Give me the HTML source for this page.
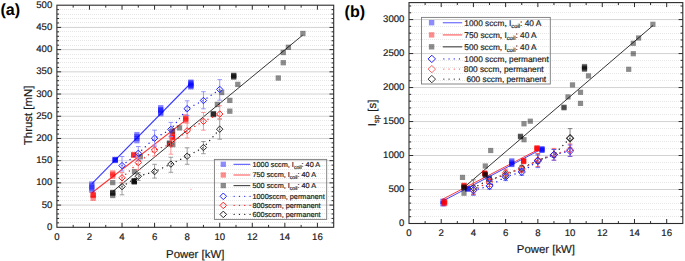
<!DOCTYPE html>
<html><head><meta charset="utf-8"><style>
html,body{margin:0;padding:0;background:#fff;width:685px;height:261px;overflow:hidden}
svg{display:block}
text{font-family:"Liberation Sans", sans-serif;fill:#1a1a1a;text-rendering:geometricPrecision;stroke:#1a1a1a;stroke-width:0.18px}
.tk{font-size:9.6px}
.ti{font-size:11.4px}
.lg{font-size:7.3px}
.pl{font-size:16.1px;font-weight:bold;fill:#000;stroke:none}
</style></head><body>
<svg width="685" height="261" viewBox="0 0 685 261">
<rect width="685" height="261" fill="#fff"/>
<line x1="58" y1="222.5" x2="333.7" y2="222.5" stroke="#e6e6e6" stroke-width="1" stroke-dasharray="1 1"/>
<line x1="58" y1="218.5" x2="333.7" y2="218.5" stroke="#e6e6e6" stroke-width="1" stroke-dasharray="1 1"/>
<line x1="58" y1="213.5" x2="333.7" y2="213.5" stroke="#e6e6e6" stroke-width="1" stroke-dasharray="1 1"/>
<line x1="58" y1="209.5" x2="333.7" y2="209.5" stroke="#e6e6e6" stroke-width="1" stroke-dasharray="1 1"/>
<line x1="56.9" y1="205.09" x2="333.7" y2="205.09" stroke="#d2d2d2" stroke-width="1"/>
<line x1="58" y1="200.5" x2="333.7" y2="200.5" stroke="#e6e6e6" stroke-width="1" stroke-dasharray="1 1"/>
<line x1="58" y1="196.5" x2="333.7" y2="196.5" stroke="#e6e6e6" stroke-width="1" stroke-dasharray="1 1"/>
<line x1="58" y1="191.5" x2="333.7" y2="191.5" stroke="#e6e6e6" stroke-width="1" stroke-dasharray="1 1"/>
<line x1="58" y1="187.5" x2="333.7" y2="187.5" stroke="#e6e6e6" stroke-width="1" stroke-dasharray="1 1"/>
<line x1="56.9" y1="182.88" x2="333.7" y2="182.88" stroke="#d2d2d2" stroke-width="1"/>
<line x1="58" y1="178.5" x2="333.7" y2="178.5" stroke="#e6e6e6" stroke-width="1" stroke-dasharray="1 1"/>
<line x1="58" y1="173.5" x2="333.7" y2="173.5" stroke="#e6e6e6" stroke-width="1" stroke-dasharray="1 1"/>
<line x1="58" y1="169.5" x2="333.7" y2="169.5" stroke="#e6e6e6" stroke-width="1" stroke-dasharray="1 1"/>
<line x1="58" y1="165.5" x2="333.7" y2="165.5" stroke="#e6e6e6" stroke-width="1" stroke-dasharray="1 1"/>
<line x1="56.9" y1="160.67" x2="333.7" y2="160.67" stroke="#d2d2d2" stroke-width="1"/>
<line x1="58" y1="156.5" x2="333.7" y2="156.5" stroke="#e6e6e6" stroke-width="1" stroke-dasharray="1 1"/>
<line x1="58" y1="151.5" x2="333.7" y2="151.5" stroke="#e6e6e6" stroke-width="1" stroke-dasharray="1 1"/>
<line x1="58" y1="147.5" x2="333.7" y2="147.5" stroke="#e6e6e6" stroke-width="1" stroke-dasharray="1 1"/>
<line x1="58" y1="142.5" x2="333.7" y2="142.5" stroke="#e6e6e6" stroke-width="1" stroke-dasharray="1 1"/>
<line x1="56.9" y1="138.46" x2="333.7" y2="138.46" stroke="#d2d2d2" stroke-width="1"/>
<line x1="58" y1="134.5" x2="333.7" y2="134.5" stroke="#e6e6e6" stroke-width="1" stroke-dasharray="1 1"/>
<line x1="58" y1="129.5" x2="333.7" y2="129.5" stroke="#e6e6e6" stroke-width="1" stroke-dasharray="1 1"/>
<line x1="58" y1="125.5" x2="333.7" y2="125.5" stroke="#e6e6e6" stroke-width="1" stroke-dasharray="1 1"/>
<line x1="58" y1="120.5" x2="333.7" y2="120.5" stroke="#e6e6e6" stroke-width="1" stroke-dasharray="1 1"/>
<line x1="56.9" y1="116.25" x2="333.7" y2="116.25" stroke="#d2d2d2" stroke-width="1"/>
<line x1="58" y1="111.5" x2="333.7" y2="111.5" stroke="#e6e6e6" stroke-width="1" stroke-dasharray="1 1"/>
<line x1="58" y1="107.5" x2="333.7" y2="107.5" stroke="#e6e6e6" stroke-width="1" stroke-dasharray="1 1"/>
<line x1="58" y1="102.5" x2="333.7" y2="102.5" stroke="#e6e6e6" stroke-width="1" stroke-dasharray="1 1"/>
<line x1="58" y1="98.5" x2="333.7" y2="98.5" stroke="#e6e6e6" stroke-width="1" stroke-dasharray="1 1"/>
<line x1="56.9" y1="94.04" x2="333.7" y2="94.04" stroke="#d2d2d2" stroke-width="1"/>
<line x1="58" y1="89.5" x2="333.7" y2="89.5" stroke="#e6e6e6" stroke-width="1" stroke-dasharray="1 1"/>
<line x1="58" y1="85.5" x2="333.7" y2="85.5" stroke="#e6e6e6" stroke-width="1" stroke-dasharray="1 1"/>
<line x1="58" y1="80.5" x2="333.7" y2="80.5" stroke="#e6e6e6" stroke-width="1" stroke-dasharray="1 1"/>
<line x1="58" y1="76.5" x2="333.7" y2="76.5" stroke="#e6e6e6" stroke-width="1" stroke-dasharray="1 1"/>
<line x1="56.9" y1="71.83" x2="333.7" y2="71.83" stroke="#d2d2d2" stroke-width="1"/>
<line x1="58" y1="67.5" x2="333.7" y2="67.5" stroke="#e6e6e6" stroke-width="1" stroke-dasharray="1 1"/>
<line x1="58" y1="62.5" x2="333.7" y2="62.5" stroke="#e6e6e6" stroke-width="1" stroke-dasharray="1 1"/>
<line x1="58" y1="58.5" x2="333.7" y2="58.5" stroke="#e6e6e6" stroke-width="1" stroke-dasharray="1 1"/>
<line x1="58" y1="54.5" x2="333.7" y2="54.5" stroke="#e6e6e6" stroke-width="1" stroke-dasharray="1 1"/>
<line x1="56.9" y1="49.62" x2="333.7" y2="49.62" stroke="#d2d2d2" stroke-width="1"/>
<line x1="58" y1="45.5" x2="333.7" y2="45.5" stroke="#e6e6e6" stroke-width="1" stroke-dasharray="1 1"/>
<line x1="58" y1="40.5" x2="333.7" y2="40.5" stroke="#e6e6e6" stroke-width="1" stroke-dasharray="1 1"/>
<line x1="58" y1="36.5" x2="333.7" y2="36.5" stroke="#e6e6e6" stroke-width="1" stroke-dasharray="1 1"/>
<line x1="58" y1="31.5" x2="333.7" y2="31.5" stroke="#e6e6e6" stroke-width="1" stroke-dasharray="1 1"/>
<line x1="56.9" y1="27.41" x2="333.7" y2="27.41" stroke="#d2d2d2" stroke-width="1"/>
<line x1="58" y1="22.5" x2="333.7" y2="22.5" stroke="#e6e6e6" stroke-width="1" stroke-dasharray="1 1"/>
<line x1="58" y1="18.5" x2="333.7" y2="18.5" stroke="#e6e6e6" stroke-width="1" stroke-dasharray="1 1"/>
<line x1="58" y1="14.5" x2="333.7" y2="14.5" stroke="#e6e6e6" stroke-width="1" stroke-dasharray="1 1"/>
<line x1="58" y1="9.5" x2="333.7" y2="9.5" stroke="#e6e6e6" stroke-width="1" stroke-dasharray="1 1"/>
<line x1="56.9" y1="222.86" x2="59.1" y2="222.86" stroke="#2b2b2b" stroke-width="1"/>
<line x1="333.7" y1="222.86" x2="331.5" y2="222.86" stroke="#2b2b2b" stroke-width="1"/>
<line x1="56.9" y1="218.42" x2="59.1" y2="218.42" stroke="#2b2b2b" stroke-width="1"/>
<line x1="333.7" y1="218.42" x2="331.5" y2="218.42" stroke="#2b2b2b" stroke-width="1"/>
<line x1="56.9" y1="213.97" x2="59.1" y2="213.97" stroke="#2b2b2b" stroke-width="1"/>
<line x1="333.7" y1="213.97" x2="331.5" y2="213.97" stroke="#2b2b2b" stroke-width="1"/>
<line x1="56.9" y1="209.53" x2="59.1" y2="209.53" stroke="#2b2b2b" stroke-width="1"/>
<line x1="333.7" y1="209.53" x2="331.5" y2="209.53" stroke="#2b2b2b" stroke-width="1"/>
<line x1="56.9" y1="205.09" x2="61.1" y2="205.09" stroke="#2b2b2b" stroke-width="1"/>
<line x1="333.7" y1="205.09" x2="329.5" y2="205.09" stroke="#2b2b2b" stroke-width="1"/>
<line x1="56.9" y1="200.65" x2="59.1" y2="200.65" stroke="#2b2b2b" stroke-width="1"/>
<line x1="333.7" y1="200.65" x2="331.5" y2="200.65" stroke="#2b2b2b" stroke-width="1"/>
<line x1="56.9" y1="196.21" x2="59.1" y2="196.21" stroke="#2b2b2b" stroke-width="1"/>
<line x1="333.7" y1="196.21" x2="331.5" y2="196.21" stroke="#2b2b2b" stroke-width="1"/>
<line x1="56.9" y1="191.76" x2="59.1" y2="191.76" stroke="#2b2b2b" stroke-width="1"/>
<line x1="333.7" y1="191.76" x2="331.5" y2="191.76" stroke="#2b2b2b" stroke-width="1"/>
<line x1="56.9" y1="187.32" x2="59.1" y2="187.32" stroke="#2b2b2b" stroke-width="1"/>
<line x1="333.7" y1="187.32" x2="331.5" y2="187.32" stroke="#2b2b2b" stroke-width="1"/>
<line x1="56.9" y1="182.88" x2="61.1" y2="182.88" stroke="#2b2b2b" stroke-width="1"/>
<line x1="333.7" y1="182.88" x2="329.5" y2="182.88" stroke="#2b2b2b" stroke-width="1"/>
<line x1="56.9" y1="178.44" x2="59.1" y2="178.44" stroke="#2b2b2b" stroke-width="1"/>
<line x1="333.7" y1="178.44" x2="331.5" y2="178.44" stroke="#2b2b2b" stroke-width="1"/>
<line x1="56.9" y1="174" x2="59.1" y2="174" stroke="#2b2b2b" stroke-width="1"/>
<line x1="333.7" y1="174" x2="331.5" y2="174" stroke="#2b2b2b" stroke-width="1"/>
<line x1="56.9" y1="169.55" x2="59.1" y2="169.55" stroke="#2b2b2b" stroke-width="1"/>
<line x1="333.7" y1="169.55" x2="331.5" y2="169.55" stroke="#2b2b2b" stroke-width="1"/>
<line x1="56.9" y1="165.11" x2="59.1" y2="165.11" stroke="#2b2b2b" stroke-width="1"/>
<line x1="333.7" y1="165.11" x2="331.5" y2="165.11" stroke="#2b2b2b" stroke-width="1"/>
<line x1="56.9" y1="160.67" x2="61.1" y2="160.67" stroke="#2b2b2b" stroke-width="1"/>
<line x1="333.7" y1="160.67" x2="329.5" y2="160.67" stroke="#2b2b2b" stroke-width="1"/>
<line x1="56.9" y1="156.23" x2="59.1" y2="156.23" stroke="#2b2b2b" stroke-width="1"/>
<line x1="333.7" y1="156.23" x2="331.5" y2="156.23" stroke="#2b2b2b" stroke-width="1"/>
<line x1="56.9" y1="151.79" x2="59.1" y2="151.79" stroke="#2b2b2b" stroke-width="1"/>
<line x1="333.7" y1="151.79" x2="331.5" y2="151.79" stroke="#2b2b2b" stroke-width="1"/>
<line x1="56.9" y1="147.34" x2="59.1" y2="147.34" stroke="#2b2b2b" stroke-width="1"/>
<line x1="333.7" y1="147.34" x2="331.5" y2="147.34" stroke="#2b2b2b" stroke-width="1"/>
<line x1="56.9" y1="142.9" x2="59.1" y2="142.9" stroke="#2b2b2b" stroke-width="1"/>
<line x1="333.7" y1="142.9" x2="331.5" y2="142.9" stroke="#2b2b2b" stroke-width="1"/>
<line x1="56.9" y1="138.46" x2="61.1" y2="138.46" stroke="#2b2b2b" stroke-width="1"/>
<line x1="333.7" y1="138.46" x2="329.5" y2="138.46" stroke="#2b2b2b" stroke-width="1"/>
<line x1="56.9" y1="134.02" x2="59.1" y2="134.02" stroke="#2b2b2b" stroke-width="1"/>
<line x1="333.7" y1="134.02" x2="331.5" y2="134.02" stroke="#2b2b2b" stroke-width="1"/>
<line x1="56.9" y1="129.58" x2="59.1" y2="129.58" stroke="#2b2b2b" stroke-width="1"/>
<line x1="333.7" y1="129.58" x2="331.5" y2="129.58" stroke="#2b2b2b" stroke-width="1"/>
<line x1="56.9" y1="125.13" x2="59.1" y2="125.13" stroke="#2b2b2b" stroke-width="1"/>
<line x1="333.7" y1="125.13" x2="331.5" y2="125.13" stroke="#2b2b2b" stroke-width="1"/>
<line x1="56.9" y1="120.69" x2="59.1" y2="120.69" stroke="#2b2b2b" stroke-width="1"/>
<line x1="333.7" y1="120.69" x2="331.5" y2="120.69" stroke="#2b2b2b" stroke-width="1"/>
<line x1="56.9" y1="116.25" x2="61.1" y2="116.25" stroke="#2b2b2b" stroke-width="1"/>
<line x1="333.7" y1="116.25" x2="329.5" y2="116.25" stroke="#2b2b2b" stroke-width="1"/>
<line x1="56.9" y1="111.81" x2="59.1" y2="111.81" stroke="#2b2b2b" stroke-width="1"/>
<line x1="333.7" y1="111.81" x2="331.5" y2="111.81" stroke="#2b2b2b" stroke-width="1"/>
<line x1="56.9" y1="107.37" x2="59.1" y2="107.37" stroke="#2b2b2b" stroke-width="1"/>
<line x1="333.7" y1="107.37" x2="331.5" y2="107.37" stroke="#2b2b2b" stroke-width="1"/>
<line x1="56.9" y1="102.92" x2="59.1" y2="102.92" stroke="#2b2b2b" stroke-width="1"/>
<line x1="333.7" y1="102.92" x2="331.5" y2="102.92" stroke="#2b2b2b" stroke-width="1"/>
<line x1="56.9" y1="98.48" x2="59.1" y2="98.48" stroke="#2b2b2b" stroke-width="1"/>
<line x1="333.7" y1="98.48" x2="331.5" y2="98.48" stroke="#2b2b2b" stroke-width="1"/>
<line x1="56.9" y1="94.04" x2="61.1" y2="94.04" stroke="#2b2b2b" stroke-width="1"/>
<line x1="333.7" y1="94.04" x2="329.5" y2="94.04" stroke="#2b2b2b" stroke-width="1"/>
<line x1="56.9" y1="89.6" x2="59.1" y2="89.6" stroke="#2b2b2b" stroke-width="1"/>
<line x1="333.7" y1="89.6" x2="331.5" y2="89.6" stroke="#2b2b2b" stroke-width="1"/>
<line x1="56.9" y1="85.16" x2="59.1" y2="85.16" stroke="#2b2b2b" stroke-width="1"/>
<line x1="333.7" y1="85.16" x2="331.5" y2="85.16" stroke="#2b2b2b" stroke-width="1"/>
<line x1="56.9" y1="80.71" x2="59.1" y2="80.71" stroke="#2b2b2b" stroke-width="1"/>
<line x1="333.7" y1="80.71" x2="331.5" y2="80.71" stroke="#2b2b2b" stroke-width="1"/>
<line x1="56.9" y1="76.27" x2="59.1" y2="76.27" stroke="#2b2b2b" stroke-width="1"/>
<line x1="333.7" y1="76.27" x2="331.5" y2="76.27" stroke="#2b2b2b" stroke-width="1"/>
<line x1="56.9" y1="71.83" x2="61.1" y2="71.83" stroke="#2b2b2b" stroke-width="1"/>
<line x1="333.7" y1="71.83" x2="329.5" y2="71.83" stroke="#2b2b2b" stroke-width="1"/>
<line x1="56.9" y1="67.39" x2="59.1" y2="67.39" stroke="#2b2b2b" stroke-width="1"/>
<line x1="333.7" y1="67.39" x2="331.5" y2="67.39" stroke="#2b2b2b" stroke-width="1"/>
<line x1="56.9" y1="62.95" x2="59.1" y2="62.95" stroke="#2b2b2b" stroke-width="1"/>
<line x1="333.7" y1="62.95" x2="331.5" y2="62.95" stroke="#2b2b2b" stroke-width="1"/>
<line x1="56.9" y1="58.5" x2="59.1" y2="58.5" stroke="#2b2b2b" stroke-width="1"/>
<line x1="333.7" y1="58.5" x2="331.5" y2="58.5" stroke="#2b2b2b" stroke-width="1"/>
<line x1="56.9" y1="54.06" x2="59.1" y2="54.06" stroke="#2b2b2b" stroke-width="1"/>
<line x1="333.7" y1="54.06" x2="331.5" y2="54.06" stroke="#2b2b2b" stroke-width="1"/>
<line x1="56.9" y1="49.62" x2="61.1" y2="49.62" stroke="#2b2b2b" stroke-width="1"/>
<line x1="333.7" y1="49.62" x2="329.5" y2="49.62" stroke="#2b2b2b" stroke-width="1"/>
<line x1="56.9" y1="45.18" x2="59.1" y2="45.18" stroke="#2b2b2b" stroke-width="1"/>
<line x1="333.7" y1="45.18" x2="331.5" y2="45.18" stroke="#2b2b2b" stroke-width="1"/>
<line x1="56.9" y1="40.74" x2="59.1" y2="40.74" stroke="#2b2b2b" stroke-width="1"/>
<line x1="333.7" y1="40.74" x2="331.5" y2="40.74" stroke="#2b2b2b" stroke-width="1"/>
<line x1="56.9" y1="36.29" x2="59.1" y2="36.29" stroke="#2b2b2b" stroke-width="1"/>
<line x1="333.7" y1="36.29" x2="331.5" y2="36.29" stroke="#2b2b2b" stroke-width="1"/>
<line x1="56.9" y1="31.85" x2="59.1" y2="31.85" stroke="#2b2b2b" stroke-width="1"/>
<line x1="333.7" y1="31.85" x2="331.5" y2="31.85" stroke="#2b2b2b" stroke-width="1"/>
<line x1="56.9" y1="27.41" x2="61.1" y2="27.41" stroke="#2b2b2b" stroke-width="1"/>
<line x1="333.7" y1="27.41" x2="329.5" y2="27.41" stroke="#2b2b2b" stroke-width="1"/>
<line x1="56.9" y1="22.97" x2="59.1" y2="22.97" stroke="#2b2b2b" stroke-width="1"/>
<line x1="333.7" y1="22.97" x2="331.5" y2="22.97" stroke="#2b2b2b" stroke-width="1"/>
<line x1="56.9" y1="18.53" x2="59.1" y2="18.53" stroke="#2b2b2b" stroke-width="1"/>
<line x1="333.7" y1="18.53" x2="331.5" y2="18.53" stroke="#2b2b2b" stroke-width="1"/>
<line x1="56.9" y1="14.08" x2="59.1" y2="14.08" stroke="#2b2b2b" stroke-width="1"/>
<line x1="333.7" y1="14.08" x2="331.5" y2="14.08" stroke="#2b2b2b" stroke-width="1"/>
<line x1="56.9" y1="9.64" x2="59.1" y2="9.64" stroke="#2b2b2b" stroke-width="1"/>
<line x1="333.7" y1="9.64" x2="331.5" y2="9.64" stroke="#2b2b2b" stroke-width="1"/>
<line x1="73.18" y1="227.3" x2="73.18" y2="224.9" stroke="#2b2b2b" stroke-width="1"/>
<line x1="73.18" y1="5.2" x2="73.18" y2="7.6" stroke="#2b2b2b" stroke-width="1"/>
<line x1="89.46" y1="227.3" x2="89.46" y2="222.8" stroke="#2b2b2b" stroke-width="1"/>
<line x1="89.46" y1="5.2" x2="89.46" y2="9.7" stroke="#2b2b2b" stroke-width="1"/>
<line x1="105.75" y1="227.3" x2="105.75" y2="224.9" stroke="#2b2b2b" stroke-width="1"/>
<line x1="105.75" y1="5.2" x2="105.75" y2="7.6" stroke="#2b2b2b" stroke-width="1"/>
<line x1="122.03" y1="227.3" x2="122.03" y2="222.8" stroke="#2b2b2b" stroke-width="1"/>
<line x1="122.03" y1="5.2" x2="122.03" y2="9.7" stroke="#2b2b2b" stroke-width="1"/>
<line x1="138.31" y1="227.3" x2="138.31" y2="224.9" stroke="#2b2b2b" stroke-width="1"/>
<line x1="138.31" y1="5.2" x2="138.31" y2="7.6" stroke="#2b2b2b" stroke-width="1"/>
<line x1="154.59" y1="227.3" x2="154.59" y2="222.8" stroke="#2b2b2b" stroke-width="1"/>
<line x1="154.59" y1="5.2" x2="154.59" y2="9.7" stroke="#2b2b2b" stroke-width="1"/>
<line x1="170.88" y1="227.3" x2="170.88" y2="224.9" stroke="#2b2b2b" stroke-width="1"/>
<line x1="170.88" y1="5.2" x2="170.88" y2="7.6" stroke="#2b2b2b" stroke-width="1"/>
<line x1="187.16" y1="227.3" x2="187.16" y2="222.8" stroke="#2b2b2b" stroke-width="1"/>
<line x1="187.16" y1="5.2" x2="187.16" y2="9.7" stroke="#2b2b2b" stroke-width="1"/>
<line x1="203.44" y1="227.3" x2="203.44" y2="224.9" stroke="#2b2b2b" stroke-width="1"/>
<line x1="203.44" y1="5.2" x2="203.44" y2="7.6" stroke="#2b2b2b" stroke-width="1"/>
<line x1="219.72" y1="227.3" x2="219.72" y2="222.8" stroke="#2b2b2b" stroke-width="1"/>
<line x1="219.72" y1="5.2" x2="219.72" y2="9.7" stroke="#2b2b2b" stroke-width="1"/>
<line x1="236.01" y1="227.3" x2="236.01" y2="224.9" stroke="#2b2b2b" stroke-width="1"/>
<line x1="236.01" y1="5.2" x2="236.01" y2="7.6" stroke="#2b2b2b" stroke-width="1"/>
<line x1="252.29" y1="227.3" x2="252.29" y2="222.8" stroke="#2b2b2b" stroke-width="1"/>
<line x1="252.29" y1="5.2" x2="252.29" y2="9.7" stroke="#2b2b2b" stroke-width="1"/>
<line x1="268.57" y1="227.3" x2="268.57" y2="224.9" stroke="#2b2b2b" stroke-width="1"/>
<line x1="268.57" y1="5.2" x2="268.57" y2="7.6" stroke="#2b2b2b" stroke-width="1"/>
<line x1="284.85" y1="227.3" x2="284.85" y2="222.8" stroke="#2b2b2b" stroke-width="1"/>
<line x1="284.85" y1="5.2" x2="284.85" y2="9.7" stroke="#2b2b2b" stroke-width="1"/>
<line x1="301.14" y1="227.3" x2="301.14" y2="224.9" stroke="#2b2b2b" stroke-width="1"/>
<line x1="301.14" y1="5.2" x2="301.14" y2="7.6" stroke="#2b2b2b" stroke-width="1"/>
<line x1="317.42" y1="227.3" x2="317.42" y2="222.8" stroke="#2b2b2b" stroke-width="1"/>
<line x1="317.42" y1="5.2" x2="317.42" y2="9.7" stroke="#2b2b2b" stroke-width="1"/>
<rect x="56.9" y="5.2" width="276.8" height="222.1" fill="none" stroke="#2b2b2b" stroke-width="1.1"/>
<text x="56.9" y="240.3" text-anchor="middle" class="tk">0</text>
<text x="89.46" y="240.3" text-anchor="middle" class="tk">2</text>
<text x="122.03" y="240.3" text-anchor="middle" class="tk">4</text>
<text x="154.59" y="240.3" text-anchor="middle" class="tk">6</text>
<text x="187.16" y="240.3" text-anchor="middle" class="tk">8</text>
<text x="219.72" y="240.3" text-anchor="middle" class="tk">10</text>
<text x="252.29" y="240.3" text-anchor="middle" class="tk">12</text>
<text x="284.85" y="240.3" text-anchor="middle" class="tk">14</text>
<text x="317.42" y="240.3" text-anchor="middle" class="tk">16</text>
<text x="52.3" y="229.8" text-anchor="end" class="tk">0</text>
<text x="52.3" y="207.59" text-anchor="end" class="tk">50</text>
<text x="52.3" y="185.38" text-anchor="end" class="tk">100</text>
<text x="52.3" y="163.17" text-anchor="end" class="tk">150</text>
<text x="52.3" y="140.96" text-anchor="end" class="tk">200</text>
<text x="52.3" y="118.75" text-anchor="end" class="tk">250</text>
<text x="52.3" y="96.54" text-anchor="end" class="tk">300</text>
<text x="52.3" y="74.33" text-anchor="end" class="tk">350</text>
<text x="52.3" y="52.12" text-anchor="end" class="tk">400</text>
<text x="52.3" y="29.91" text-anchor="end" class="tk">450</text>
<text x="52.3" y="7.7" text-anchor="end" class="tk">500</text>
<line x1="92" y1="183.6" x2="189.5" y2="84.5" stroke="#3a3aff" stroke-width="1.1"/>
<line x1="92" y1="192.8" x2="183.8" y2="121.6" stroke="#ff3030" stroke-width="1.1"/>
<line x1="113" y1="191.3" x2="302.5" y2="35.3" stroke="#2a2a2a" stroke-width="0.95"/>
<rect x="89.15" y="181.35" width="5.3" height="5.3" fill="rgba(0,0,255,0.45)"/>
<rect x="89.15" y="183.35" width="5.3" height="5.3" fill="rgba(0,0,255,0.45)"/>
<rect x="89.15" y="185.35" width="5.3" height="5.3" fill="rgba(0,0,255,0.45)"/>
<rect x="89.15" y="187.55" width="5.3" height="5.3" fill="rgba(0,0,255,0.45)"/>
<rect x="112.55" y="156.75" width="5.3" height="5.3" fill="rgba(0,0,255,0.45)"/>
<rect x="112.55" y="157.35" width="5.3" height="5.3" fill="rgba(0,0,255,0.45)"/>
<rect x="112.55" y="157.85" width="5.3" height="5.3" fill="rgba(0,0,255,0.45)"/>
<rect x="112.55" y="157.15" width="5.3" height="5.3" fill="rgba(0,0,255,0.45)"/>
<rect x="134.25" y="131.95" width="5.3" height="5.3" fill="rgba(0,0,255,0.45)"/>
<rect x="134.25" y="133.85" width="5.3" height="5.3" fill="rgba(0,0,255,0.45)"/>
<rect x="134.25" y="135.85" width="5.3" height="5.3" fill="rgba(0,0,255,0.45)"/>
<rect x="134.25" y="138.05" width="5.3" height="5.3" fill="rgba(0,0,255,0.45)"/>
<rect x="158.05" y="105.05" width="5.3" height="5.3" fill="rgba(0,0,255,0.45)"/>
<rect x="158.05" y="106.85" width="5.3" height="5.3" fill="rgba(0,0,255,0.45)"/>
<rect x="158.05" y="107.85" width="5.3" height="5.3" fill="rgba(0,0,255,0.45)"/>
<rect x="158.05" y="109.85" width="5.3" height="5.3" fill="rgba(0,0,255,0.45)"/>
<rect x="158.05" y="111.05" width="5.3" height="5.3" fill="rgba(0,0,255,0.45)"/>
<rect x="188.25" y="79.45" width="5.3" height="5.3" fill="rgba(0,0,255,0.45)"/>
<rect x="188.25" y="80.15" width="5.3" height="5.3" fill="rgba(0,0,255,0.45)"/>
<rect x="188.25" y="81.35" width="5.3" height="5.3" fill="rgba(0,0,255,0.45)"/>
<rect x="188.25" y="82.55" width="5.3" height="5.3" fill="rgba(0,0,255,0.45)"/>
<rect x="188.25" y="83.35" width="5.3" height="5.3" fill="rgba(0,0,255,0.45)"/>
<rect x="188.25" y="84.25" width="5.3" height="5.3" fill="rgba(0,0,255,0.45)"/>
<rect x="90.55" y="191.85" width="5.3" height="5.3" fill="rgba(255,0,0,0.45)"/>
<rect x="90.55" y="192.35" width="5.3" height="5.3" fill="rgba(255,0,0,0.45)"/>
<rect x="90.55" y="192.85" width="5.3" height="5.3" fill="rgba(255,0,0,0.45)"/>
<rect x="90.55" y="195.65" width="5.3" height="5.3" fill="rgba(255,0,0,0.45)"/>
<rect x="110.05" y="170.35" width="5.3" height="5.3" fill="rgba(255,0,0,0.45)"/>
<rect x="110.05" y="171.85" width="5.3" height="5.3" fill="rgba(255,0,0,0.45)"/>
<rect x="110.05" y="173.55" width="5.3" height="5.3" fill="rgba(255,0,0,0.45)"/>
<rect x="131.05" y="151.85" width="5.3" height="5.3" fill="rgba(255,0,0,0.45)"/>
<rect x="131.05" y="152.35" width="5.3" height="5.3" fill="rgba(255,0,0,0.45)"/>
<rect x="131.05" y="152.65" width="5.3" height="5.3" fill="rgba(255,0,0,0.45)"/>
<rect x="169.75" y="128.85" width="5.3" height="5.3" fill="rgba(255,0,0,0.45)"/>
<rect x="169.75" y="132.15" width="5.3" height="5.3" fill="rgba(255,0,0,0.45)"/>
<rect x="169.75" y="133.35" width="5.3" height="5.3" fill="rgba(255,0,0,0.45)"/>
<rect x="169.75" y="134.35" width="5.3" height="5.3" fill="rgba(255,0,0,0.45)"/>
<rect x="169.75" y="134.85" width="5.3" height="5.3" fill="rgba(255,0,0,0.45)"/>
<rect x="169.75" y="135.35" width="5.3" height="5.3" fill="rgba(255,0,0,0.45)"/>
<rect x="183.05" y="114.15" width="5.3" height="5.3" fill="rgba(255,0,0,0.45)"/>
<rect x="183.05" y="115.85" width="5.3" height="5.3" fill="rgba(255,0,0,0.45)"/>
<rect x="183.05" y="116.85" width="5.3" height="5.3" fill="rgba(255,0,0,0.45)"/>
<rect x="183.05" y="118.05" width="5.3" height="5.3" fill="rgba(255,0,0,0.45)"/>
<rect x="110.05" y="179.95" width="5.3" height="5.3" fill="rgba(0,0,0,0.45)"/>
<rect x="110.05" y="189.75" width="5.3" height="5.3" fill="rgba(0,0,0,0.45)"/>
<rect x="110.05" y="190.25" width="5.3" height="5.3" fill="rgba(0,0,0,0.45)"/>
<rect x="110.05" y="190.75" width="5.3" height="5.3" fill="rgba(0,0,0,0.45)"/>
<rect x="110.05" y="192.85" width="5.3" height="5.3" fill="rgba(0,0,0,0.45)"/>
<rect x="131.65" y="177.95" width="5.3" height="5.3" fill="rgba(0,0,0,0.45)"/>
<rect x="131.65" y="178.35" width="5.3" height="5.3" fill="rgba(0,0,0,0.45)"/>
<rect x="131.65" y="178.65" width="5.3" height="5.3" fill="rgba(0,0,0,0.45)"/>
<rect x="131.65" y="178.95" width="5.3" height="5.3" fill="rgba(0,0,0,0.45)"/>
<rect x="131.65" y="179.35" width="5.3" height="5.3" fill="rgba(0,0,0,0.45)"/>
<rect x="131.85" y="168.95" width="5.3" height="5.3" fill="rgba(0,0,0,0.45)"/>
<rect x="137.65" y="154.15" width="5.3" height="5.3" fill="rgba(0,0,0,0.45)"/>
<rect x="166.85" y="140.35" width="5.3" height="5.3" fill="rgba(0,0,0,0.45)"/>
<rect x="166.85" y="141.15" width="5.3" height="5.3" fill="rgba(0,0,0,0.45)"/>
<rect x="170.15" y="141.95" width="5.3" height="5.3" fill="rgba(0,0,0,0.45)"/>
<rect x="169.95" y="128.35" width="5.3" height="5.3" fill="rgba(0,0,0,0.45)"/>
<rect x="176.85" y="125.25" width="5.3" height="5.3" fill="rgba(0,0,0,0.45)"/>
<rect x="210.75" y="110.95" width="5.3" height="5.3" fill="rgba(0,0,0,0.45)"/>
<rect x="210.75" y="111.45" width="5.3" height="5.3" fill="rgba(0,0,0,0.45)"/>
<rect x="210.75" y="111.95" width="5.3" height="5.3" fill="rgba(0,0,0,0.45)"/>
<rect x="214.75" y="101.75" width="5.3" height="5.3" fill="rgba(0,0,0,0.45)"/>
<rect x="218.95" y="89.85" width="5.3" height="5.3" fill="rgba(0,0,0,0.45)"/>
<rect x="227.15" y="97.75" width="5.3" height="5.3" fill="rgba(0,0,0,0.45)"/>
<rect x="227.15" y="108.55" width="5.3" height="5.3" fill="rgba(0,0,0,0.45)"/>
<rect x="231.05" y="72.65" width="5.3" height="5.3" fill="rgba(0,0,0,0.45)"/>
<rect x="231.05" y="73.15" width="5.3" height="5.3" fill="rgba(0,0,0,0.45)"/>
<rect x="231.05" y="73.65" width="5.3" height="5.3" fill="rgba(0,0,0,0.45)"/>
<rect x="231.05" y="74.65" width="5.3" height="5.3" fill="rgba(0,0,0,0.45)"/>
<rect x="235.15" y="81.75" width="5.3" height="5.3" fill="rgba(0,0,0,0.45)"/>
<rect x="275.65" y="75.35" width="5.3" height="5.3" fill="rgba(0,0,0,0.45)"/>
<rect x="280.65" y="60.05" width="5.3" height="5.3" fill="rgba(0,0,0,0.45)"/>
<rect x="280.65" y="49.85" width="5.3" height="5.3" fill="rgba(0,0,0,0.45)"/>
<rect x="285.75" y="44.65" width="5.3" height="5.3" fill="rgba(0,0,0,0.45)"/>
<rect x="300.25" y="30.85" width="5.3" height="5.3" fill="rgba(0,0,0,0.45)"/>
<polyline points="122.03,186.6 138.31,176.3 154.59,171.6 170.88,164.1 187.16,156.2 203.44,147.5 219.72,129.2" fill="none" stroke="#222" stroke-width="1.35" stroke-dasharray="0.1 4.9" stroke-linecap="round"/>
<polyline points="122.03,177.8 138.31,162.6 154.59,150 170.88,144.2 187.16,130.8 203.44,121.3 219.72,114" fill="none" stroke="#ff2020" stroke-width="1.35" stroke-dasharray="0.1 4.9" stroke-linecap="round"/>
<polyline points="122.03,165.6 138.31,153.3 154.59,138.2 170.88,129.4 187.16,108.7 203.44,100.5 219.72,89.4" fill="none" stroke="#2020ff" stroke-width="1.35" stroke-dasharray="0.1 4.9" stroke-linecap="round"/>
<path d="M122.03 182.6V194.8M119.73 182.6H124.33M119.73 194.8H124.33" fill="none" stroke="#888" stroke-width="0.8"/>
<path d="M138.31 172.5V180.5M136.01 172.5H140.61M136.01 180.5H140.61" fill="none" stroke="#888" stroke-width="0.8"/>
<path d="M154.59 164.3V178.1M152.29 164.3H156.89M152.29 178.1H156.89" fill="none" stroke="#888" stroke-width="0.8"/>
<path d="M170.88 157.3V172.3M168.58 157.3H173.18M168.58 172.3H173.18" fill="none" stroke="#888" stroke-width="0.8"/>
<path d="M187.16 147.8V164.3M184.86 147.8H189.46M184.86 164.3H189.46" fill="none" stroke="#888" stroke-width="0.8"/>
<path d="M203.44 141.5V153.7M201.14 141.5H205.74M201.14 153.7H205.74" fill="none" stroke="#888" stroke-width="0.8"/>
<path d="M219.72 118.9V139.2M217.42 118.9H222.02M217.42 139.2H222.02" fill="none" stroke="#888" stroke-width="0.8"/>
<path d="M122.03 172.5V183M119.73 172.5H124.33M119.73 183H124.33" fill="none" stroke="#ff8080" stroke-width="0.8"/>
<path d="M138.31 157.5V169.7M136.01 157.5H140.61M136.01 169.7H140.61" fill="none" stroke="#ff8080" stroke-width="0.8"/>
<path d="M154.59 145V156M152.29 145H156.89M152.29 156H156.89" fill="none" stroke="#ff8080" stroke-width="0.8"/>
<path d="M170.88 137V154.2M168.58 137H173.18M168.58 154.2H173.18" fill="none" stroke="#ff8080" stroke-width="0.8"/>
<path d="M187.16 123.1V138.1M184.86 123.1H189.46M184.86 138.1H189.46" fill="none" stroke="#ff8080" stroke-width="0.8"/>
<path d="M203.44 112.5V130.2M201.14 112.5H205.74M201.14 130.2H205.74" fill="none" stroke="#ff8080" stroke-width="0.8"/>
<path d="M219.72 105.7V119.2M217.42 105.7H222.02M217.42 119.2H222.02" fill="none" stroke="#ff8080" stroke-width="0.8"/>
<path d="M122.03 156.5V171M119.73 156.5H124.33M119.73 171H124.33" fill="none" stroke="#8080ff" stroke-width="0.8"/>
<path d="M138.31 146.5V160M136.01 146.5H140.61M136.01 160H140.61" fill="none" stroke="#8080ff" stroke-width="0.8"/>
<path d="M154.59 130.2V146.3M152.29 130.2H156.89M152.29 146.3H156.89" fill="none" stroke="#8080ff" stroke-width="0.8"/>
<path d="M170.88 122.4V136.5M168.58 122.4H173.18M168.58 136.5H173.18" fill="none" stroke="#8080ff" stroke-width="0.8"/>
<path d="M187.16 100.8V115.5M184.86 100.8H189.46M184.86 115.5H189.46" fill="none" stroke="#8080ff" stroke-width="0.8"/>
<path d="M203.44 91.7V108.8M201.14 91.7H205.74M201.14 108.8H205.74" fill="none" stroke="#8080ff" stroke-width="0.8"/>
<path d="M219.72 79.6V100.2M217.42 79.6H222.02M217.42 100.2H222.02" fill="none" stroke="#8080ff" stroke-width="0.8"/>
<path d="M122.03 183.4L125.23 186.6L122.03 189.8L118.83 186.6Z" fill="none" stroke="#222" stroke-width="1.0"/>
<path d="M138.31 173.1L141.51 176.3L138.31 179.5L135.11 176.3Z" fill="none" stroke="#222" stroke-width="1.0"/>
<path d="M154.59 168.4L157.79 171.6L154.59 174.8L151.39 171.6Z" fill="none" stroke="#222" stroke-width="1.0"/>
<path d="M170.88 160.9L174.08 164.1L170.88 167.3L167.68 164.1Z" fill="none" stroke="#222" stroke-width="1.0"/>
<path d="M187.16 153L190.36 156.2L187.16 159.4L183.96 156.2Z" fill="none" stroke="#222" stroke-width="1.0"/>
<path d="M203.44 144.3L206.64 147.5L203.44 150.7L200.24 147.5Z" fill="none" stroke="#222" stroke-width="1.0"/>
<path d="M219.72 126L222.92 129.2L219.72 132.4L216.52 129.2Z" fill="none" stroke="#222" stroke-width="1.0"/>
<path d="M122.03 174.6L125.23 177.8L122.03 181L118.83 177.8Z" fill="none" stroke="#ff2020" stroke-width="1.0"/>
<path d="M138.31 159.4L141.51 162.6L138.31 165.8L135.11 162.6Z" fill="none" stroke="#ff2020" stroke-width="1.0"/>
<path d="M154.59 146.8L157.79 150L154.59 153.2L151.39 150Z" fill="none" stroke="#ff2020" stroke-width="1.0"/>
<path d="M170.88 141L174.08 144.2L170.88 147.4L167.68 144.2Z" fill="none" stroke="#ff2020" stroke-width="1.0"/>
<path d="M187.16 127.6L190.36 130.8L187.16 134L183.96 130.8Z" fill="none" stroke="#ff2020" stroke-width="1.0"/>
<path d="M203.44 118.1L206.64 121.3L203.44 124.5L200.24 121.3Z" fill="none" stroke="#ff2020" stroke-width="1.0"/>
<path d="M219.72 110.8L222.92 114L219.72 117.2L216.52 114Z" fill="none" stroke="#ff2020" stroke-width="1.0"/>
<path d="M122.03 162.4L125.23 165.6L122.03 168.8L118.83 165.6Z" fill="none" stroke="#2020ff" stroke-width="1.0"/>
<path d="M138.31 150.1L141.51 153.3L138.31 156.5L135.11 153.3Z" fill="none" stroke="#2020ff" stroke-width="1.0"/>
<path d="M154.59 135L157.79 138.2L154.59 141.4L151.39 138.2Z" fill="none" stroke="#2020ff" stroke-width="1.0"/>
<path d="M170.88 126.2L174.08 129.4L170.88 132.6L167.68 129.4Z" fill="none" stroke="#2020ff" stroke-width="1.0"/>
<path d="M187.16 105.5L190.36 108.7L187.16 111.9L183.96 108.7Z" fill="none" stroke="#2020ff" stroke-width="1.0"/>
<path d="M203.44 97.3L206.64 100.5L203.44 103.7L200.24 100.5Z" fill="none" stroke="#2020ff" stroke-width="1.0"/>
<path d="M219.72 86.2L222.92 89.4L219.72 92.6L216.52 89.4Z" fill="none" stroke="#2020ff" stroke-width="1.0"/>
<rect x="190.3" y="188.8" width="1.3" height="1.2" fill="#ffb0b0"/>
<rect x="214.4" y="159.4" width="112.3" height="60" fill="none" stroke="#7a7a7a" stroke-width="0.9"/>
<rect x="220.65" y="161.65" width="5.3" height="5.3" fill="rgba(0,0,255,0.45)"/>
<line x1="233.5" y1="164.3" x2="250.3" y2="164.3" stroke="#4646ff" stroke-width="1.0"/>
<rect x="220.65" y="172.35" width="5.3" height="5.3" fill="rgba(255,0,0,0.45)"/>
<line x1="233.5" y1="175" x2="250.3" y2="175" stroke="#ff6a6a" stroke-width="1.2"/>
<rect x="220.65" y="182.95" width="5.3" height="5.3" fill="rgba(0,0,0,0.45)"/>
<line x1="233.5" y1="185.6" x2="250.3" y2="185.6" stroke="#444" stroke-width="1.1"/>
<path d="M223.3 193L226.6 196.3L223.3 199.6L220 196.3Z" fill="none" stroke="#2020ff" stroke-width="1.0"/>
<polyline points="234.1,196.3 251,196.3" fill="none" stroke="#2020ff" stroke-width="1.2" stroke-dasharray="0.1 5.2" stroke-linecap="round"/>
<path d="M223.3 202.1L226.6 205.4L223.3 208.7L220 205.4Z" fill="none" stroke="#ff2020" stroke-width="1.0"/>
<polyline points="234.1,205.4 251,205.4" fill="none" stroke="#ff2020" stroke-width="1.2" stroke-dasharray="0.1 5.2" stroke-linecap="round"/>
<path d="M223.3 211.1L226.6 214.4L223.3 217.7L220 214.4Z" fill="none" stroke="#222" stroke-width="1.0"/>
<polyline points="234.1,214.4 251,214.4" fill="none" stroke="#222" stroke-width="1.2" stroke-dasharray="0.1 5.2" stroke-linecap="round"/>
<text x="252.5" y="166.5" style="font-size:7.3px">1000 sccm, I<tspan style="font-size:5.11px" dy="2.19">coil</tspan><tspan dy="-2.19">: 40 A</tspan></text>
<text x="252.5" y="177.2" style="font-size:7.3px">750 sccm, I<tspan style="font-size:5.11px" dy="2.19">coil</tspan><tspan dy="-2.19">: 40 A</tspan></text>
<text x="252.5" y="187.8" style="font-size:7.3px">500 sccm, I<tspan style="font-size:5.11px" dy="2.19">coil</tspan><tspan dy="-2.19">: 40 A</tspan></text>
<text x="252.5" y="198.9" style="font-size:7.3px">1000sccm, permanent</text>
<text x="252.5" y="208" style="font-size:7.3px">800sccm, permanent</text>
<text x="252.5" y="217" style="font-size:7.3px">600sccm, permanent</text>
<text x="195.2" y="257.7" text-anchor="middle" class="ti">Power [kW]</text>
<text transform="translate(31.9 115.4) rotate(-90)" text-anchor="middle" class="ti">Thrust [mN]</text>
<text x="0.5" y="15.2" class="pl">(a)</text>
<line x1="410" y1="216.5" x2="682.8" y2="216.5" stroke="#e6e6e6" stroke-width="1" stroke-dasharray="1 1"/>
<line x1="410" y1="209.5" x2="682.8" y2="209.5" stroke="#e6e6e6" stroke-width="1" stroke-dasharray="1 1"/>
<line x1="410" y1="203.5" x2="682.8" y2="203.5" stroke="#e6e6e6" stroke-width="1" stroke-dasharray="1 1"/>
<line x1="410" y1="196.5" x2="682.8" y2="196.5" stroke="#e6e6e6" stroke-width="1" stroke-dasharray="1 1"/>
<line x1="409" y1="189.51" x2="682.8" y2="189.51" stroke="#d2d2d2" stroke-width="1"/>
<line x1="410" y1="182.5" x2="682.8" y2="182.5" stroke="#e6e6e6" stroke-width="1" stroke-dasharray="1 1"/>
<line x1="410" y1="175.5" x2="682.8" y2="175.5" stroke="#e6e6e6" stroke-width="1" stroke-dasharray="1 1"/>
<line x1="410" y1="169.5" x2="682.8" y2="169.5" stroke="#e6e6e6" stroke-width="1" stroke-dasharray="1 1"/>
<line x1="410" y1="162.5" x2="682.8" y2="162.5" stroke="#e6e6e6" stroke-width="1" stroke-dasharray="1 1"/>
<line x1="409" y1="155.53" x2="682.8" y2="155.53" stroke="#d2d2d2" stroke-width="1"/>
<line x1="410" y1="148.5" x2="682.8" y2="148.5" stroke="#e6e6e6" stroke-width="1" stroke-dasharray="1 1"/>
<line x1="410" y1="141.5" x2="682.8" y2="141.5" stroke="#e6e6e6" stroke-width="1" stroke-dasharray="1 1"/>
<line x1="410" y1="135.5" x2="682.8" y2="135.5" stroke="#e6e6e6" stroke-width="1" stroke-dasharray="1 1"/>
<line x1="410" y1="128.5" x2="682.8" y2="128.5" stroke="#e6e6e6" stroke-width="1" stroke-dasharray="1 1"/>
<line x1="409" y1="121.55" x2="682.8" y2="121.55" stroke="#d2d2d2" stroke-width="1"/>
<line x1="410" y1="114.5" x2="682.8" y2="114.5" stroke="#e6e6e6" stroke-width="1" stroke-dasharray="1 1"/>
<line x1="410" y1="107.5" x2="682.8" y2="107.5" stroke="#e6e6e6" stroke-width="1" stroke-dasharray="1 1"/>
<line x1="410" y1="101.5" x2="682.8" y2="101.5" stroke="#e6e6e6" stroke-width="1" stroke-dasharray="1 1"/>
<line x1="410" y1="94.5" x2="682.8" y2="94.5" stroke="#e6e6e6" stroke-width="1" stroke-dasharray="1 1"/>
<line x1="409" y1="87.56" x2="682.8" y2="87.56" stroke="#d2d2d2" stroke-width="1"/>
<line x1="410" y1="80.5" x2="682.8" y2="80.5" stroke="#e6e6e6" stroke-width="1" stroke-dasharray="1 1"/>
<line x1="410" y1="73.5" x2="682.8" y2="73.5" stroke="#e6e6e6" stroke-width="1" stroke-dasharray="1 1"/>
<line x1="410" y1="67.5" x2="682.8" y2="67.5" stroke="#e6e6e6" stroke-width="1" stroke-dasharray="1 1"/>
<line x1="410" y1="60.5" x2="682.8" y2="60.5" stroke="#e6e6e6" stroke-width="1" stroke-dasharray="1 1"/>
<line x1="409" y1="53.57" x2="682.8" y2="53.57" stroke="#d2d2d2" stroke-width="1"/>
<line x1="410" y1="46.5" x2="682.8" y2="46.5" stroke="#e6e6e6" stroke-width="1" stroke-dasharray="1 1"/>
<line x1="410" y1="39.5" x2="682.8" y2="39.5" stroke="#e6e6e6" stroke-width="1" stroke-dasharray="1 1"/>
<line x1="410" y1="33.5" x2="682.8" y2="33.5" stroke="#e6e6e6" stroke-width="1" stroke-dasharray="1 1"/>
<line x1="410" y1="26.5" x2="682.8" y2="26.5" stroke="#e6e6e6" stroke-width="1" stroke-dasharray="1 1"/>
<line x1="409" y1="19.59" x2="682.8" y2="19.59" stroke="#d2d2d2" stroke-width="1"/>
<line x1="410" y1="12.5" x2="682.8" y2="12.5" stroke="#e6e6e6" stroke-width="1" stroke-dasharray="1 1"/>
<line x1="410" y1="5.5" x2="682.8" y2="5.5" stroke="#e6e6e6" stroke-width="1" stroke-dasharray="1 1"/>
<line x1="409" y1="216.7" x2="411.2" y2="216.7" stroke="#2b2b2b" stroke-width="1"/>
<line x1="682.8" y1="216.7" x2="680.6" y2="216.7" stroke="#2b2b2b" stroke-width="1"/>
<line x1="409" y1="209.91" x2="411.2" y2="209.91" stroke="#2b2b2b" stroke-width="1"/>
<line x1="682.8" y1="209.91" x2="680.6" y2="209.91" stroke="#2b2b2b" stroke-width="1"/>
<line x1="409" y1="203.11" x2="411.2" y2="203.11" stroke="#2b2b2b" stroke-width="1"/>
<line x1="682.8" y1="203.11" x2="680.6" y2="203.11" stroke="#2b2b2b" stroke-width="1"/>
<line x1="409" y1="196.31" x2="411.2" y2="196.31" stroke="#2b2b2b" stroke-width="1"/>
<line x1="682.8" y1="196.31" x2="680.6" y2="196.31" stroke="#2b2b2b" stroke-width="1"/>
<line x1="409" y1="189.51" x2="413.2" y2="189.51" stroke="#2b2b2b" stroke-width="1"/>
<line x1="682.8" y1="189.51" x2="678.6" y2="189.51" stroke="#2b2b2b" stroke-width="1"/>
<line x1="409" y1="182.72" x2="411.2" y2="182.72" stroke="#2b2b2b" stroke-width="1"/>
<line x1="682.8" y1="182.72" x2="680.6" y2="182.72" stroke="#2b2b2b" stroke-width="1"/>
<line x1="409" y1="175.92" x2="411.2" y2="175.92" stroke="#2b2b2b" stroke-width="1"/>
<line x1="682.8" y1="175.92" x2="680.6" y2="175.92" stroke="#2b2b2b" stroke-width="1"/>
<line x1="409" y1="169.12" x2="411.2" y2="169.12" stroke="#2b2b2b" stroke-width="1"/>
<line x1="682.8" y1="169.12" x2="680.6" y2="169.12" stroke="#2b2b2b" stroke-width="1"/>
<line x1="409" y1="162.33" x2="411.2" y2="162.33" stroke="#2b2b2b" stroke-width="1"/>
<line x1="682.8" y1="162.33" x2="680.6" y2="162.33" stroke="#2b2b2b" stroke-width="1"/>
<line x1="409" y1="155.53" x2="413.2" y2="155.53" stroke="#2b2b2b" stroke-width="1"/>
<line x1="682.8" y1="155.53" x2="678.6" y2="155.53" stroke="#2b2b2b" stroke-width="1"/>
<line x1="409" y1="148.73" x2="411.2" y2="148.73" stroke="#2b2b2b" stroke-width="1"/>
<line x1="682.8" y1="148.73" x2="680.6" y2="148.73" stroke="#2b2b2b" stroke-width="1"/>
<line x1="409" y1="141.94" x2="411.2" y2="141.94" stroke="#2b2b2b" stroke-width="1"/>
<line x1="682.8" y1="141.94" x2="680.6" y2="141.94" stroke="#2b2b2b" stroke-width="1"/>
<line x1="409" y1="135.14" x2="411.2" y2="135.14" stroke="#2b2b2b" stroke-width="1"/>
<line x1="682.8" y1="135.14" x2="680.6" y2="135.14" stroke="#2b2b2b" stroke-width="1"/>
<line x1="409" y1="128.34" x2="411.2" y2="128.34" stroke="#2b2b2b" stroke-width="1"/>
<line x1="682.8" y1="128.34" x2="680.6" y2="128.34" stroke="#2b2b2b" stroke-width="1"/>
<line x1="409" y1="121.55" x2="413.2" y2="121.55" stroke="#2b2b2b" stroke-width="1"/>
<line x1="682.8" y1="121.55" x2="678.6" y2="121.55" stroke="#2b2b2b" stroke-width="1"/>
<line x1="409" y1="114.75" x2="411.2" y2="114.75" stroke="#2b2b2b" stroke-width="1"/>
<line x1="682.8" y1="114.75" x2="680.6" y2="114.75" stroke="#2b2b2b" stroke-width="1"/>
<line x1="409" y1="107.95" x2="411.2" y2="107.95" stroke="#2b2b2b" stroke-width="1"/>
<line x1="682.8" y1="107.95" x2="680.6" y2="107.95" stroke="#2b2b2b" stroke-width="1"/>
<line x1="409" y1="101.15" x2="411.2" y2="101.15" stroke="#2b2b2b" stroke-width="1"/>
<line x1="682.8" y1="101.15" x2="680.6" y2="101.15" stroke="#2b2b2b" stroke-width="1"/>
<line x1="409" y1="94.36" x2="411.2" y2="94.36" stroke="#2b2b2b" stroke-width="1"/>
<line x1="682.8" y1="94.36" x2="680.6" y2="94.36" stroke="#2b2b2b" stroke-width="1"/>
<line x1="409" y1="87.56" x2="413.2" y2="87.56" stroke="#2b2b2b" stroke-width="1"/>
<line x1="682.8" y1="87.56" x2="678.6" y2="87.56" stroke="#2b2b2b" stroke-width="1"/>
<line x1="409" y1="80.76" x2="411.2" y2="80.76" stroke="#2b2b2b" stroke-width="1"/>
<line x1="682.8" y1="80.76" x2="680.6" y2="80.76" stroke="#2b2b2b" stroke-width="1"/>
<line x1="409" y1="73.97" x2="411.2" y2="73.97" stroke="#2b2b2b" stroke-width="1"/>
<line x1="682.8" y1="73.97" x2="680.6" y2="73.97" stroke="#2b2b2b" stroke-width="1"/>
<line x1="409" y1="67.17" x2="411.2" y2="67.17" stroke="#2b2b2b" stroke-width="1"/>
<line x1="682.8" y1="67.17" x2="680.6" y2="67.17" stroke="#2b2b2b" stroke-width="1"/>
<line x1="409" y1="60.37" x2="411.2" y2="60.37" stroke="#2b2b2b" stroke-width="1"/>
<line x1="682.8" y1="60.37" x2="680.6" y2="60.37" stroke="#2b2b2b" stroke-width="1"/>
<line x1="409" y1="53.57" x2="413.2" y2="53.57" stroke="#2b2b2b" stroke-width="1"/>
<line x1="682.8" y1="53.57" x2="678.6" y2="53.57" stroke="#2b2b2b" stroke-width="1"/>
<line x1="409" y1="46.78" x2="411.2" y2="46.78" stroke="#2b2b2b" stroke-width="1"/>
<line x1="682.8" y1="46.78" x2="680.6" y2="46.78" stroke="#2b2b2b" stroke-width="1"/>
<line x1="409" y1="39.98" x2="411.2" y2="39.98" stroke="#2b2b2b" stroke-width="1"/>
<line x1="682.8" y1="39.98" x2="680.6" y2="39.98" stroke="#2b2b2b" stroke-width="1"/>
<line x1="409" y1="33.18" x2="411.2" y2="33.18" stroke="#2b2b2b" stroke-width="1"/>
<line x1="682.8" y1="33.18" x2="680.6" y2="33.18" stroke="#2b2b2b" stroke-width="1"/>
<line x1="409" y1="26.39" x2="411.2" y2="26.39" stroke="#2b2b2b" stroke-width="1"/>
<line x1="682.8" y1="26.39" x2="680.6" y2="26.39" stroke="#2b2b2b" stroke-width="1"/>
<line x1="409" y1="19.59" x2="413.2" y2="19.59" stroke="#2b2b2b" stroke-width="1"/>
<line x1="682.8" y1="19.59" x2="678.6" y2="19.59" stroke="#2b2b2b" stroke-width="1"/>
<line x1="409" y1="12.79" x2="411.2" y2="12.79" stroke="#2b2b2b" stroke-width="1"/>
<line x1="682.8" y1="12.79" x2="680.6" y2="12.79" stroke="#2b2b2b" stroke-width="1"/>
<line x1="409" y1="6" x2="411.2" y2="6" stroke="#2b2b2b" stroke-width="1"/>
<line x1="682.8" y1="6" x2="680.6" y2="6" stroke="#2b2b2b" stroke-width="1"/>
<line x1="425.11" y1="223.5" x2="425.11" y2="221.1" stroke="#2b2b2b" stroke-width="1"/>
<line x1="425.11" y1="2.6" x2="425.11" y2="5" stroke="#2b2b2b" stroke-width="1"/>
<line x1="441.21" y1="223.5" x2="441.21" y2="219" stroke="#2b2b2b" stroke-width="1"/>
<line x1="441.21" y1="2.6" x2="441.21" y2="7.1" stroke="#2b2b2b" stroke-width="1"/>
<line x1="457.32" y1="223.5" x2="457.32" y2="221.1" stroke="#2b2b2b" stroke-width="1"/>
<line x1="457.32" y1="2.6" x2="457.32" y2="5" stroke="#2b2b2b" stroke-width="1"/>
<line x1="473.42" y1="223.5" x2="473.42" y2="219" stroke="#2b2b2b" stroke-width="1"/>
<line x1="473.42" y1="2.6" x2="473.42" y2="7.1" stroke="#2b2b2b" stroke-width="1"/>
<line x1="489.53" y1="223.5" x2="489.53" y2="221.1" stroke="#2b2b2b" stroke-width="1"/>
<line x1="489.53" y1="2.6" x2="489.53" y2="5" stroke="#2b2b2b" stroke-width="1"/>
<line x1="505.64" y1="223.5" x2="505.64" y2="219" stroke="#2b2b2b" stroke-width="1"/>
<line x1="505.64" y1="2.6" x2="505.64" y2="7.1" stroke="#2b2b2b" stroke-width="1"/>
<line x1="521.74" y1="223.5" x2="521.74" y2="221.1" stroke="#2b2b2b" stroke-width="1"/>
<line x1="521.74" y1="2.6" x2="521.74" y2="5" stroke="#2b2b2b" stroke-width="1"/>
<line x1="537.85" y1="223.5" x2="537.85" y2="219" stroke="#2b2b2b" stroke-width="1"/>
<line x1="537.85" y1="2.6" x2="537.85" y2="7.1" stroke="#2b2b2b" stroke-width="1"/>
<line x1="553.95" y1="223.5" x2="553.95" y2="221.1" stroke="#2b2b2b" stroke-width="1"/>
<line x1="553.95" y1="2.6" x2="553.95" y2="5" stroke="#2b2b2b" stroke-width="1"/>
<line x1="570.06" y1="223.5" x2="570.06" y2="219" stroke="#2b2b2b" stroke-width="1"/>
<line x1="570.06" y1="2.6" x2="570.06" y2="7.1" stroke="#2b2b2b" stroke-width="1"/>
<line x1="586.16" y1="223.5" x2="586.16" y2="221.1" stroke="#2b2b2b" stroke-width="1"/>
<line x1="586.16" y1="2.6" x2="586.16" y2="5" stroke="#2b2b2b" stroke-width="1"/>
<line x1="602.27" y1="223.5" x2="602.27" y2="219" stroke="#2b2b2b" stroke-width="1"/>
<line x1="602.27" y1="2.6" x2="602.27" y2="7.1" stroke="#2b2b2b" stroke-width="1"/>
<line x1="618.38" y1="223.5" x2="618.38" y2="221.1" stroke="#2b2b2b" stroke-width="1"/>
<line x1="618.38" y1="2.6" x2="618.38" y2="5" stroke="#2b2b2b" stroke-width="1"/>
<line x1="634.48" y1="223.5" x2="634.48" y2="219" stroke="#2b2b2b" stroke-width="1"/>
<line x1="634.48" y1="2.6" x2="634.48" y2="7.1" stroke="#2b2b2b" stroke-width="1"/>
<line x1="650.59" y1="223.5" x2="650.59" y2="221.1" stroke="#2b2b2b" stroke-width="1"/>
<line x1="650.59" y1="2.6" x2="650.59" y2="5" stroke="#2b2b2b" stroke-width="1"/>
<line x1="666.69" y1="223.5" x2="666.69" y2="219" stroke="#2b2b2b" stroke-width="1"/>
<line x1="666.69" y1="2.6" x2="666.69" y2="7.1" stroke="#2b2b2b" stroke-width="1"/>
<rect x="409" y="2.6" width="273.8" height="220.9" fill="none" stroke="#2b2b2b" stroke-width="1.1"/>
<text x="409" y="235.7" text-anchor="middle" class="tk">0</text>
<text x="441.21" y="235.7" text-anchor="middle" class="tk">2</text>
<text x="473.42" y="235.7" text-anchor="middle" class="tk">4</text>
<text x="505.64" y="235.7" text-anchor="middle" class="tk">6</text>
<text x="537.85" y="235.7" text-anchor="middle" class="tk">8</text>
<text x="570.06" y="235.7" text-anchor="middle" class="tk">10</text>
<text x="602.27" y="235.7" text-anchor="middle" class="tk">12</text>
<text x="634.48" y="235.7" text-anchor="middle" class="tk">14</text>
<text x="666.69" y="235.7" text-anchor="middle" class="tk">16</text>
<text x="404.4" y="226" text-anchor="end" class="tk">0</text>
<text x="404.4" y="192.01" text-anchor="end" class="tk">500</text>
<text x="404.4" y="158.03" text-anchor="end" class="tk">1000</text>
<text x="404.4" y="124.05" text-anchor="end" class="tk">1500</text>
<text x="404.4" y="90.06" text-anchor="end" class="tk">2000</text>
<text x="404.4" y="56.07" text-anchor="end" class="tk">2500</text>
<text x="404.4" y="22.09" text-anchor="end" class="tk">3000</text>
<line x1="466" y1="185.7" x2="652.9" y2="25.6" stroke="#2a2a2a" stroke-width="0.95"/>
<line x1="442.5" y1="199.3" x2="538.7" y2="149.3" stroke="#ff3030" stroke-width="0.95"/>
<line x1="442.5" y1="201.2" x2="538.7" y2="150.6" stroke="#3a3aff" stroke-width="0.95"/>
<rect x="440.4" y="198.7" width="5.2" height="5.2" fill="rgba(0,0,255,0.6)"/>
<rect x="440.4" y="201.2" width="5.2" height="5.2" fill="rgba(0,0,255,0.6)"/>
<rect x="465.1" y="186" width="5.2" height="5.2" fill="rgba(0,0,255,0.6)"/>
<rect x="465.1" y="186.6" width="5.2" height="5.2" fill="rgba(0,0,255,0.6)"/>
<rect x="486.6" y="175.6" width="5.2" height="5.2" fill="rgba(0,0,255,0.6)"/>
<rect x="486.6" y="176.2" width="5.2" height="5.2" fill="rgba(0,0,255,0.6)"/>
<rect x="509.2" y="158.4" width="5.2" height="5.2" fill="rgba(0,0,255,0.6)"/>
<rect x="509.2" y="160.4" width="5.2" height="5.2" fill="rgba(0,0,255,0.6)"/>
<rect x="509.2" y="161.9" width="5.2" height="5.2" fill="rgba(0,0,255,0.6)"/>
<rect x="539.4" y="146.2" width="5.2" height="5.2" fill="rgba(0,0,255,0.6)"/>
<rect x="539.4" y="146.9" width="5.2" height="5.2" fill="rgba(0,0,255,0.6)"/>
<rect x="539.4" y="147.8" width="5.2" height="5.2" fill="rgba(0,0,255,0.6)"/>
<rect x="442" y="198.6" width="5.2" height="5.2" fill="rgba(255,0,0,0.6)"/>
<rect x="442" y="201" width="5.2" height="5.2" fill="rgba(255,0,0,0.6)"/>
<rect x="442" y="199.8" width="5.2" height="5.2" fill="rgba(255,0,0,0.6)"/>
<rect x="461.4" y="182.7" width="5.2" height="5.2" fill="rgba(255,0,0,0.6)"/>
<rect x="461.4" y="183.2" width="5.2" height="5.2" fill="rgba(255,0,0,0.6)"/>
<rect x="482" y="170.4" width="5.2" height="5.2" fill="rgba(255,0,0,0.6)"/>
<rect x="482" y="170.9" width="5.2" height="5.2" fill="rgba(255,0,0,0.6)"/>
<rect x="521" y="158" width="5.2" height="5.2" fill="rgba(255,0,0,0.6)"/>
<rect x="521" y="158.6" width="5.2" height="5.2" fill="rgba(255,0,0,0.6)"/>
<rect x="521" y="159" width="5.2" height="5.2" fill="rgba(255,0,0,0.6)"/>
<rect x="534.4" y="145.2" width="5.2" height="5.2" fill="rgba(255,0,0,0.6)"/>
<rect x="534.4" y="145.8" width="5.2" height="5.2" fill="rgba(255,0,0,0.6)"/>
<rect x="534.4" y="146.4" width="5.2" height="5.2" fill="rgba(255,0,0,0.6)"/>
<rect x="459.9" y="174.8" width="5.2" height="5.2" fill="rgba(0,0,0,0.45)"/>
<rect x="461.4" y="184.3" width="5.2" height="5.2" fill="rgba(0,0,0,0.45)"/>
<rect x="461.4" y="184.9" width="5.2" height="5.2" fill="rgba(0,0,0,0.45)"/>
<rect x="461.4" y="185.6" width="5.2" height="5.2" fill="rgba(0,0,0,0.45)"/>
<rect x="461.4" y="190.6" width="5.2" height="5.2" fill="rgba(0,0,0,0.45)"/>
<rect x="482.7" y="163.4" width="5.2" height="5.2" fill="rgba(0,0,0,0.45)"/>
<rect x="482.7" y="171.4" width="5.2" height="5.2" fill="rgba(0,0,0,0.45)"/>
<rect x="482.7" y="172.2" width="5.2" height="5.2" fill="rgba(0,0,0,0.45)"/>
<rect x="482.7" y="172.6" width="5.2" height="5.2" fill="rgba(0,0,0,0.45)"/>
<rect x="488.1" y="147.9" width="5.2" height="5.2" fill="rgba(0,0,0,0.45)"/>
<rect x="517.9" y="133.6" width="5.2" height="5.2" fill="rgba(0,0,0,0.45)"/>
<rect x="517.9" y="134.2" width="5.2" height="5.2" fill="rgba(0,0,0,0.45)"/>
<rect x="521.4" y="137.1" width="5.2" height="5.2" fill="rgba(0,0,0,0.45)"/>
<rect x="521.4" y="121.2" width="5.2" height="5.2" fill="rgba(0,0,0,0.45)"/>
<rect x="527.7" y="118.6" width="5.2" height="5.2" fill="rgba(0,0,0,0.45)"/>
<rect x="561.4" y="104.6" width="5.2" height="5.2" fill="rgba(0,0,0,0.45)"/>
<rect x="561.4" y="105.2" width="5.2" height="5.2" fill="rgba(0,0,0,0.45)"/>
<rect x="565.4" y="94.3" width="5.2" height="5.2" fill="rgba(0,0,0,0.45)"/>
<rect x="569.9" y="82.3" width="5.2" height="5.2" fill="rgba(0,0,0,0.45)"/>
<rect x="577.9" y="89.7" width="5.2" height="5.2" fill="rgba(0,0,0,0.45)"/>
<rect x="577.9" y="100.8" width="5.2" height="5.2" fill="rgba(0,0,0,0.45)"/>
<rect x="581.9" y="63.9" width="5.2" height="5.2" fill="rgba(0,0,0,0.45)"/>
<rect x="581.9" y="64.7" width="5.2" height="5.2" fill="rgba(0,0,0,0.45)"/>
<rect x="581.9" y="65.9" width="5.2" height="5.2" fill="rgba(0,0,0,0.45)"/>
<rect x="581.9" y="66.7" width="5.2" height="5.2" fill="rgba(0,0,0,0.45)"/>
<rect x="585.9" y="73.3" width="5.2" height="5.2" fill="rgba(0,0,0,0.45)"/>
<rect x="626.1" y="66.7" width="5.2" height="5.2" fill="rgba(0,0,0,0.45)"/>
<rect x="630.7" y="51.1" width="5.2" height="5.2" fill="rgba(0,0,0,0.45)"/>
<rect x="630.7" y="40.7" width="5.2" height="5.2" fill="rgba(0,0,0,0.45)"/>
<rect x="636" y="35.4" width="5.2" height="5.2" fill="rgba(0,0,0,0.45)"/>
<rect x="650.3" y="21.7" width="5.2" height="5.2" fill="rgba(0,0,0,0.45)"/>
<polyline points="473.42,188 489.53,179.5 505.64,174.8 521.74,168.1 537.85,160.5 553.95,154.6 570.06,138.2" fill="none" stroke="#222" stroke-width="1.35" stroke-dasharray="0.1 4.9" stroke-linecap="round"/>
<polyline points="473.42,190 489.53,181.8 505.64,172.9 521.74,169.2 537.85,160 553.95,154.3 570.06,149.8" fill="none" stroke="#ff2020" stroke-width="1.35" stroke-dasharray="0.1 4.9" stroke-linecap="round"/>
<polyline points="473.42,190.3 489.53,186 505.64,176.8 521.74,172 537.85,161 553.95,154.8 570.06,151" fill="none" stroke="#2020ff" stroke-width="1.35" stroke-dasharray="0.1 4.9" stroke-linecap="round"/>
<path d="M473.42 179.8V194M471.12 179.8H475.72M471.12 194H475.72" fill="none" stroke="#666" stroke-width="0.8"/>
<path d="M489.53 176V184M487.23 176H491.83M487.23 184H491.83" fill="none" stroke="#666" stroke-width="0.8"/>
<path d="M505.64 171V178.5M503.34 171H507.94M503.34 178.5H507.94" fill="none" stroke="#666" stroke-width="0.8"/>
<path d="M521.74 165.3V171.5M519.44 165.3H524.04M519.44 171.5H524.04" fill="none" stroke="#666" stroke-width="0.8"/>
<path d="M537.85 154V163.5M535.55 154H540.15M535.55 163.5H540.15" fill="none" stroke="#666" stroke-width="0.8"/>
<path d="M553.95 149.5V157.5M551.65 149.5H556.25M551.65 157.5H556.25" fill="none" stroke="#666" stroke-width="0.8"/>
<path d="M570.06 128.6V147.8M567.76 128.6H572.36M567.76 147.8H572.36" fill="none" stroke="#666" stroke-width="0.8"/>
<path d="M473.42 185V194.5M471.12 185H475.72M471.12 194.5H475.72" fill="none" stroke="#ff5050" stroke-width="0.8"/>
<path d="M489.53 178.5V186.5M487.23 178.5H491.83M487.23 186.5H491.83" fill="none" stroke="#ff5050" stroke-width="0.8"/>
<path d="M505.64 169.1V177M503.34 169.1H507.94M503.34 177H507.94" fill="none" stroke="#ff5050" stroke-width="0.8"/>
<path d="M521.74 166V172.5M519.44 166H524.04M519.44 172.5H524.04" fill="none" stroke="#ff5050" stroke-width="0.8"/>
<path d="M537.85 153.5V166.5M535.55 153.5H540.15M535.55 166.5H540.15" fill="none" stroke="#ff5050" stroke-width="0.8"/>
<path d="M553.95 148.4V160.2M551.65 148.4H556.25M551.65 160.2H556.25" fill="none" stroke="#ff5050" stroke-width="0.8"/>
<path d="M570.06 144V156.4M567.76 144H572.36M567.76 156.4H572.36" fill="none" stroke="#ff5050" stroke-width="0.8"/>
<path d="M473.42 186V195.3M471.12 186H475.72M471.12 195.3H475.72" fill="none" stroke="#5050ff" stroke-width="0.8"/>
<path d="M489.53 181.5V189.1M487.23 181.5H491.83M487.23 189.1H491.83" fill="none" stroke="#5050ff" stroke-width="0.8"/>
<path d="M505.64 173V180.6M503.34 173H507.94M503.34 180.6H507.94" fill="none" stroke="#5050ff" stroke-width="0.8"/>
<path d="M521.74 168.5V175.3M519.44 168.5H524.04M519.44 175.3H524.04" fill="none" stroke="#5050ff" stroke-width="0.8"/>
<path d="M537.85 155V167.6M535.55 155H540.15M535.55 167.6H540.15" fill="none" stroke="#5050ff" stroke-width="0.8"/>
<path d="M553.95 149.5V160.2M551.65 149.5H556.25M551.65 160.2H556.25" fill="none" stroke="#5050ff" stroke-width="0.8"/>
<path d="M570.06 145V156.4M567.76 145H572.36M567.76 156.4H572.36" fill="none" stroke="#5050ff" stroke-width="0.8"/>
<path d="M473.42 184.6L476.82 188L473.42 191.4L470.02 188Z" fill="none" stroke="#222" stroke-width="0.8"/>
<path d="M489.53 176.1L492.93 179.5L489.53 182.9L486.13 179.5Z" fill="none" stroke="#222" stroke-width="0.8"/>
<path d="M505.64 171.4L509.04 174.8L505.64 178.2L502.24 174.8Z" fill="none" stroke="#222" stroke-width="0.8"/>
<path d="M521.74 164.7L525.14 168.1L521.74 171.5L518.34 168.1Z" fill="none" stroke="#222" stroke-width="0.8"/>
<path d="M537.85 157.1L541.25 160.5L537.85 163.9L534.45 160.5Z" fill="none" stroke="#222" stroke-width="0.8"/>
<path d="M553.95 151.2L557.35 154.6L553.95 158L550.55 154.6Z" fill="none" stroke="#222" stroke-width="0.8"/>
<path d="M570.06 134.7L573.56 138.2L570.06 141.7L566.56 138.2Z" fill="none" stroke="#222" stroke-width="1.05"/>
<path d="M473.42 186.7L476.72 190L473.42 193.3L470.12 190Z" fill="none" stroke="#ff2020" stroke-width="0.8"/>
<path d="M489.53 178.5L492.83 181.8L489.53 185.1L486.23 181.8Z" fill="none" stroke="#ff2020" stroke-width="0.8"/>
<path d="M505.64 169.6L508.94 172.9L505.64 176.2L502.34 172.9Z" fill="none" stroke="#ff2020" stroke-width="0.8"/>
<path d="M521.74 165.9L525.04 169.2L521.74 172.5L518.44 169.2Z" fill="none" stroke="#ff2020" stroke-width="0.8"/>
<path d="M537.85 156.7L541.15 160L537.85 163.3L534.55 160Z" fill="none" stroke="#ff2020" stroke-width="0.8"/>
<path d="M553.95 151L557.25 154.3L553.95 157.6L550.65 154.3Z" fill="none" stroke="#ff2020" stroke-width="0.8"/>
<path d="M570.06 146.5L573.36 149.8L570.06 153.1L566.76 149.8Z" fill="none" stroke="#ff2020" stroke-width="0.8"/>
<path d="M473.42 186.7L477.02 190.3L473.42 193.9L469.82 190.3Z" fill="none" stroke="#2020ff" stroke-width="0.95"/>
<path d="M489.53 182.4L493.13 186L489.53 189.6L485.93 186Z" fill="none" stroke="#2020ff" stroke-width="0.95"/>
<path d="M505.64 173.2L509.24 176.8L505.64 180.4L502.04 176.8Z" fill="none" stroke="#2020ff" stroke-width="0.95"/>
<path d="M521.74 168.4L525.34 172L521.74 175.6L518.14 172Z" fill="none" stroke="#2020ff" stroke-width="0.95"/>
<path d="M537.85 157.4L541.45 161L537.85 164.6L534.25 161Z" fill="none" stroke="#2020ff" stroke-width="0.95"/>
<path d="M553.95 151.2L557.55 154.8L553.95 158.4L550.35 154.8Z" fill="none" stroke="#2020ff" stroke-width="0.95"/>
<path d="M570.06 147.4L573.66 151L570.06 154.6L566.46 151Z" fill="none" stroke="#2020ff" stroke-width="0.95"/>
<rect x="421.5" y="17.4" width="128.8" height="66.6" fill="none" stroke="#7a7a7a" stroke-width="0.9"/>
<rect x="428.9" y="20" width="5.4" height="5.4" fill="rgba(0,0,255,0.45)"/>
<line x1="442.8" y1="22.7" x2="462.2" y2="22.7" stroke="#7878ff" stroke-width="1.3"/>
<rect x="428.9" y="32.2" width="5.4" height="5.4" fill="rgba(255,0,0,0.45)"/>
<line x1="442.8" y1="34.9" x2="462.2" y2="34.9" stroke="#ff6e6e" stroke-width="1.3"/>
<rect x="428.9" y="44.1" width="5.4" height="5.4" fill="rgba(0,0,0,0.45)"/>
<line x1="442.8" y1="46.8" x2="462.2" y2="46.8" stroke="#5a5a5a" stroke-width="1.3"/>
<path d="M431.8 55.2L435.5 58.9L431.8 62.6L428.1 58.9Z" fill="none" stroke="#2020ff" stroke-width="1.0"/>
<polyline points="443.8,58.9 460,58.9" fill="none" stroke="#2020ff" stroke-width="1.2" stroke-dasharray="0.1 5.1" stroke-linecap="round"/>
<path d="M431.8 65.4L435.5 69.1L431.8 72.8L428.1 69.1Z" fill="none" stroke="#ff6464" stroke-width="1.0"/>
<polyline points="443.8,69.1 460,69.1" fill="none" stroke="#ff5050" stroke-width="1.2" stroke-dasharray="0.1 5.1" stroke-linecap="round"/>
<path d="M431.8 75.4L435.5 79.1L431.8 82.8L428.1 79.1Z" fill="none" stroke="#3a3a3a" stroke-width="1.0"/>
<polyline points="443.8,79.1 460,79.1" fill="none" stroke="#222" stroke-width="1.2" stroke-dasharray="0.1 5.1" stroke-linecap="round"/>
<text x="464.3" y="25.6" style="font-size:8.3px">1000 sccm, I<tspan style="font-size:5.81px" dy="2.49">coil</tspan><tspan dy="-2.49">: 40 A</tspan></text>
<text x="464.3" y="37.8" style="font-size:8.3px">750 sccm, I<tspan style="font-size:5.81px" dy="2.49">coil</tspan><tspan dy="-2.49">: 40 A</tspan></text>
<text x="464.3" y="49.7" style="font-size:8.3px">500 sccm, I<tspan style="font-size:5.81px" dy="2.49">coil</tspan><tspan dy="-2.49">: 40 A</tspan></text>
<text x="464.3" y="61.8" style="font-size:8.3px">1000 sccm, permanent</text>
<text x="463.8" y="72" style="font-size:8.3px">800 sccm, permanent</text>
<text x="466.4" y="82" style="font-size:8.3px">600 sccm, permanent</text>
<text x="545.9" y="253.4" text-anchor="middle" class="ti">Power [kW]</text>
<text transform="translate(375.9 113.0) rotate(-90)" text-anchor="middle" class="ti">I<tspan style="font-size:7.8px" dy="2.6">sp</tspan><tspan dy="-2.6"> [s]</tspan></text>
<text x="344.6" y="16.9" class="pl">(b)</text>
</svg>
</body></html>
